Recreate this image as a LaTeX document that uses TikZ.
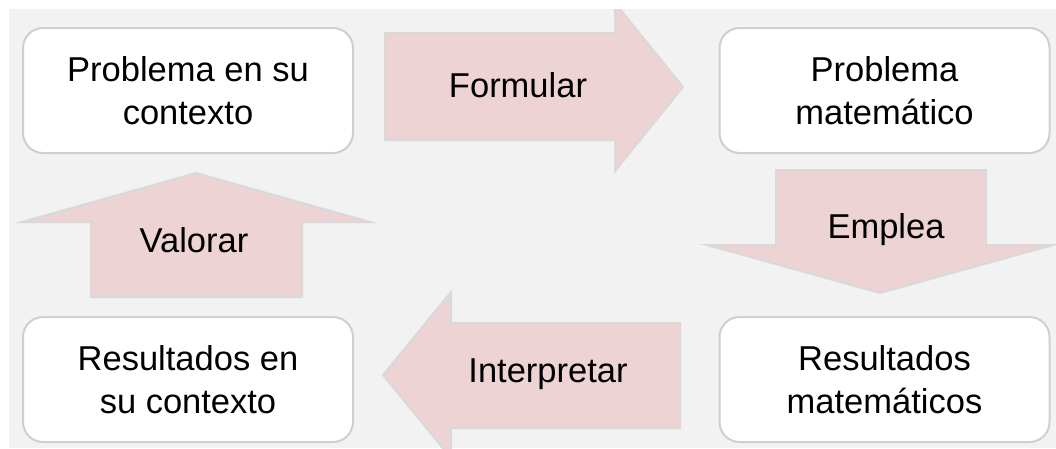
\documentclass[tikz,border=0pt]{standalone}
\usepackage{fontspec}
\setmainfont{Liberation Sans}
\definecolor{bggray}{HTML}{F2F2F2}
\definecolor{arrowfill}{HTML}{EDD3D3}
\definecolor{arrowline}{HTML}{D9D9D9}
\definecolor{boxline}{HTML}{CFCFCF}
\tikzset{
  box/.style={draw=boxline, line width=2pt, fill=white, rounded corners=20pt,
    minimum width=330pt, minimum height=125pt, inner sep=0pt, align=center,
    font=\fontsize{34.5}{43}\selectfont},
  blockarrow/.style={draw=arrowline, line width=2pt, fill=arrowfill, line join=miter},
  arrowlabel/.style={anchor=base, inner sep=0pt, font=\fontsize{34.5}{43}\selectfont}
}
\begin{document}
\begin{tikzpicture}[x=1pt,y=-1pt]
\useasboundingbox (0,0) rectangle (1056,448);
\fill[bggray] (9,9) rectangle (1056,448);
\begin{scope}
\clip (9,9) rectangle (1056,448);
% Formular
\draw[blockarrow] (385,33) -- (615,33) -- (615,3) -- (683,87) -- (615,171) -- (615,140) -- (385,140) -- cycle;
% Emplea
\draw[blockarrow] (776,170) -- (986,170) -- (986,245) -- (1053,245) -- (880,293) -- (707,245) -- (776,245) -- cycle;
% Valorar
\draw[blockarrow] (91,297) -- (91,222) -- (22,222) -- (196,173) -- (370,222) -- (302,222) -- (302,297) -- cycle;
% Interpretar
\draw[blockarrow] (680,323) -- (451,323) -- (451,292) -- (383,375) -- (451,458) -- (451,428) -- (680,428) -- cycle;
\end{scope}
\node[box] (pc) at (188,90.5) {Problema en su\\contexto};
\node[box] (pm) at (884.5,90.5) {Problema\\matemático};
\node[box] (rm) at (884.5,379.5) {Resultados\\matemáticos};
\node[box] (rc) at (188,379.5) {Resultados en\\su contexto};
\node[arrowlabel] (formular) at (518,97) {Formular};
\node[arrowlabel] (emplea) at (886,238) {Emplea};
\node[arrowlabel] (interpretar) at (548,382) {Interpretar};
\node[arrowlabel] (valorar) at (194,252) {Valorar};
\end{tikzpicture}
\end{document}
